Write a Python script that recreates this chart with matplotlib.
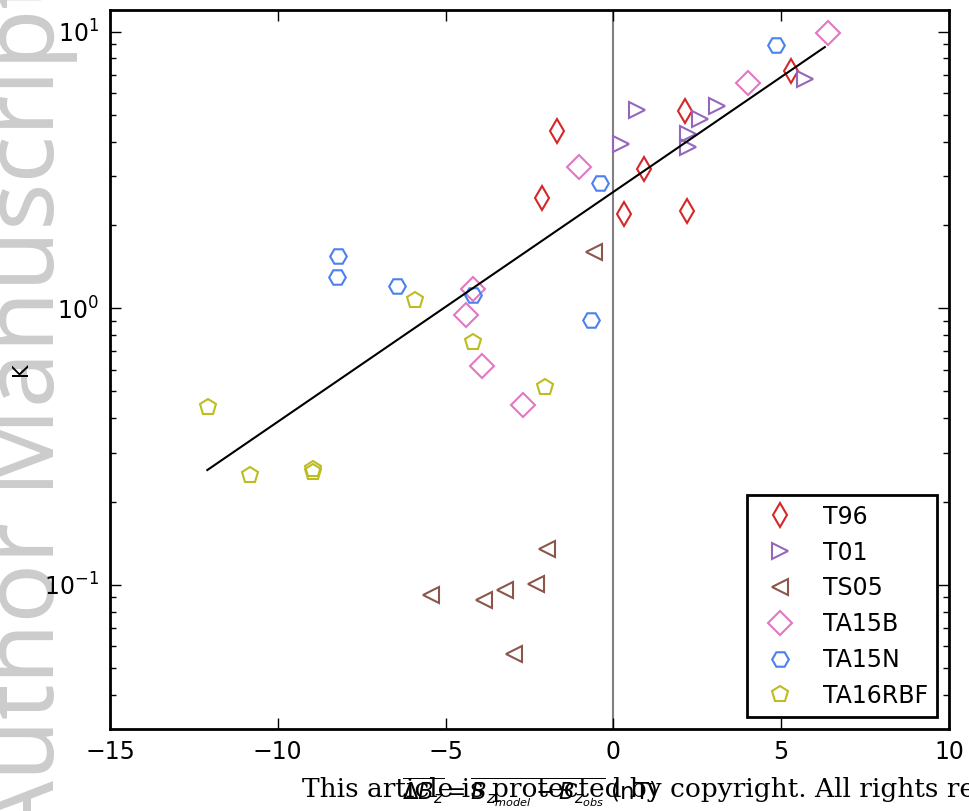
import numpy as np
import matplotlib
matplotlib.use('Agg')
import matplotlib.pyplot as plt

# dados por modelo: (delta Bz em nT, K)
t96_dbz = [5.29, 2.12, -1.69, 0.92, -2.13, 0.32, 2.18]
t96_k = [7.23, 5.16, 4.37, 3.18, 2.50, 2.20, 2.24]

t01_dbz = [5.71, 3.08, 0.69, 2.58, 2.23, 2.23, 0.22]
t01_k = [6.73, 5.37, 5.19, 4.82, 4.25, 3.83, 3.92]

ts05_dbz = [-0.58, -1.97, -5.44, -3.86, -3.23, -2.31, -2.96]
ts05_k = [1.60, 0.135, 0.0915, 0.0878, 0.0954, 0.1008, 0.0564]

ta15b_dbz = [6.40, 4.02, -1.03, -4.17, -4.39, -3.92, -2.70]
ta15b_k = [9.86, 6.52, 3.24, 1.17, 0.945, 0.617, 0.447]

ta15n_dbz = [4.85, -0.40, -8.21, -8.23, -6.44, -4.17, -0.67]
ta15n_k = [8.98, 2.83, 1.54, 1.30, 1.20, 1.12, 0.909]

ta16_dbz = [-5.91, -4.19, -2.03, -12.09, -10.83, -8.96, -8.94]
ta16_k = [1.07, 0.753, 0.519, 0.440, 0.250, 0.262, 0.256]

# reta ajustada (extremos)
fit_dbz = [-12.1, 6.3]
fit_k = [0.26, 8.8]

modelos = [('T96', t96_dbz, t96_k, 'd', '#d62728'),
           ('T01', t01_dbz, t01_k, '>', '#9467bd'),
           ('TS05', ts05_dbz, ts05_k, '<', '#8c564b'),
           ('TA15B', ta15b_dbz, ta15b_k, 'D', '#e377c2'),
           ('TA15N', ta15n_dbz, ta15n_k, 'H', '#4a80f0'),
           ('TA16RBF', ta16_dbz, ta16_k, 'p', '#bcbd22')]

fig = plt.figure(figsize=(9.69, 8.11), dpi=100)
ax = fig.add_axes([110 / 969, 82 / 811, 839 / 969, 719 / 811])

ax.axvline(0, color='gray', lw=1.5, zorder=1)
for nome, x, y, m, c in modelos:
    ax.plot(x, y, ls='none', marker=m, ms=12, mfc='none', mec=c, mew=1.5,
            label=nome, zorder=2)
ax.plot(fit_dbz, fit_k, color='k', lw=1.5, zorder=3)

ax.set_yscale('log')
ax.set_xlim(-15, 10)
ax.set_ylim(0.0301, 11.98)
ax.set_xticks([-15, -10, -5, 0, 5, 10])
ax.tick_params(which='both', direction='in', top=True, right=True,
               labelsize=17, pad=8)
ax.tick_params(which='major', length=8, width=1)
ax.tick_params(which='minor', length=4, width=1)
for sp in ax.spines.values():
    sp.set_linewidth(2)

ax.set_xlabel(r'$\overline{\Delta B_z} = \overline{B_{z_{model}} - B_{z_{obs}}}$ (nT)',
              fontsize=16.5)
ax.xaxis.set_label_coords(0.5, -0.064)
ax.set_ylabel('K', fontsize=15)
ax.yaxis.set_label_coords(-0.094, 0.5)

leg = ax.legend(loc='lower right', numpoints=1, fontsize=17, fancybox=False,
                framealpha=1)
leg.get_frame().set_edgecolor('k')
leg.get_frame().set_linewidth(2)

# marca d'agua e aviso de copyright
fig.text(54 / 969, -32 / 811, 'Author Manuscript', rotation=90,
         rotation_mode='anchor', ha='left', va='baseline', fontsize=71,
         color='#cccccc', family='Noto Sans', zorder=-1)
fig.text(302 / 969, 14 / 811,
         'This article is protected by copyright. All rights reserved.',
         ha='left', va='baseline', fontsize=19, family='DejaVu Serif')

fig.savefig('out.png', dpi=100)
